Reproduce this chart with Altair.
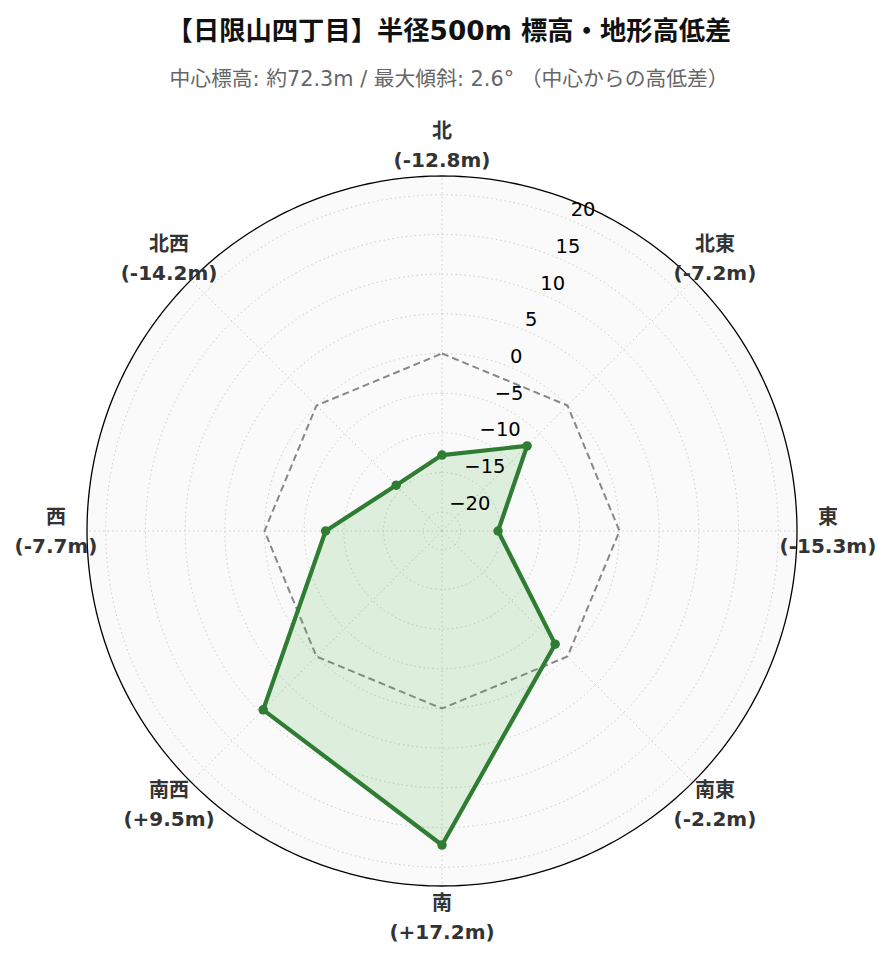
import altair as alt
import numpy as np
import pandas as pd

# ---- data ----
directions = ["北", "北東", "東", "南東", "南", "南西", "西", "北西"]
angles_deg = [0, 45, 90, 135, 180, 225, 270, 315]
diffs = [-12.8, -7.2, -15.3, -2.2, 17.2, 9.5, -7.7, -14.2]
ring_values = [-20, -15, -10, -5, 0, 5, 10, 15, 20]
ring_labels = ["−20", "−15", "−10", "−5", "0", "5", "10", "15", "20"]

title_text = "【日限山四丁目】半径500m 標高・地形高低差"
subtitle_text = "中心標高: 約72.3m / 最大傾斜: 2.6° （中心からの高低差）"

r_max = 1.3 * max(abs(v) for v in diffs)
r_min = -r_max
R = r_max - r_min            # radius in data units
label_r = R + 3.9            # direction labels sit just outside the circle
tick_angle = 22.5

FONT = "DejaVu Sans, Noto Sans CJK JP, sans-serif"
GREEN = "#2e7d32"
FILL_GREEN = "#4caf50"

# ---- tables ----
pts = pd.DataFrame({"dir": directions, "deg": angles_deg, "value": diffs, "idx": list(range(8))})
pts["label"] = [f"{d}\n({v:+.1f}m)" for d, v in zip(directions, diffs)]
closed = pd.concat([pts, pts.iloc[[0]].assign(idx=8, deg=360)], ignore_index=True)
zero_poly = closed.assign(value=0.0)

circle_deg = [int(d) for d in np.arange(0, 361, 1)]
rings = pd.DataFrame([(rv, d) for rv in ring_values for d in circle_deg], columns=["value", "deg"])
outer = pd.DataFrame({"value": [r_max] * len(circle_deg), "deg": circle_deg})
ticks = pd.DataFrame({"value": ring_values, "txt": ring_labels, "deg": [tick_angle] * len(ring_values)})
spokes = pd.DataFrame(
    [(d, v) for d in angles_deg for v in (r_min, r_max)], columns=["deg", "value"]
)
dir_labels = pts.assign(value=r_min + label_r)


def polar(ch):
    return ch.transform_calculate(
        r=f"datum.value - ({r_min})"
    ).transform_calculate(
        x="datum.r * sin(datum.deg * PI / 180)",
        y="datum.r * cos(datum.deg * PI / 180)",
    )


xs = alt.Scale(domain=[-R, R])
ys = alt.Scale(domain=[-R, R])
X = alt.X("x:Q", scale=xs, axis=None)
Y = alt.Y("y:Q", scale=ys, axis=None)

background = polar(alt.Chart(outer)).mark_line(
    fill="#fafafa", strokeOpacity=0
).encode(x=X, y=Y, order="deg:Q")

grid = polar(alt.Chart(rings)).mark_line(
    color="#cfcfcf", strokeWidth=1, strokeDash=[1.5, 3]
).encode(x=X, y=Y, detail="value:N", order="deg:Q")

spoke = polar(alt.Chart(spokes)).mark_line(
    color="#cfcfcf", strokeWidth=1, strokeDash=[1.5, 3]
).encode(x=X, y=Y, detail="deg:N", order="value:Q")

zero_line = polar(alt.Chart(zero_poly)).mark_line(
    color="#888888", strokeWidth=2, strokeDash=[7, 4]
).encode(x=X, y=Y, order="idx:Q")

poly_fill = polar(alt.Chart(closed)).mark_line(
    fill=FILL_GREEN, fillOpacity=0.17, strokeOpacity=0
).encode(x=X, y=Y, order="idx:Q")

poly_line = polar(alt.Chart(closed)).mark_line(
    color=GREEN, strokeWidth=4.2, strokeJoin="round"
).encode(x=X, y=Y, order="idx:Q")

points = polar(alt.Chart(pts)).mark_circle(
    color=GREEN, size=90, opacity=1
).encode(x=X, y=Y)

outer_line = polar(alt.Chart(outer)).mark_line(
    color="black", strokeWidth=1.3
).encode(x=X, y=Y, order="deg:Q")

tick_text = polar(alt.Chart(ticks)).mark_text(
    align="left", baseline="bottom", font=FONT, fontSize=19.5, color="black"
).encode(x=X, y=Y, text="txt:N")

dir_text = polar(alt.Chart(dir_labels)).mark_text(
    align="center", baseline="middle", font=FONT, fontSize=20, fontWeight="bold",
    color="#333333", lineBreak="\n", lineHeight=29, dy=-13
).encode(x=X, y=Y, text="label:N")

chart = alt.layer(
    background, grid, spoke, zero_line, poly_fill, poly_line, points,
    outer_line, tick_text, dir_text
).properties(
    width=710,
    height=710,
    autosize=alt.AutoSizeParams(type="none"),
    padding={"left": 79, "top": 168, "right": 80, "bottom": 60},
    title=alt.TitleParams(
        text=title_text,
        subtitle=subtitle_text,
        font=FONT,
        fontSize=26.3,
        fontWeight="bold",
        color="#111111",
        subtitleFont=FONT,
        subtitleFontSize=20.8,
        subtitleColor="#666666",
        subtitlePadding=25,
        anchor="middle",
        offset=32,
        dx=7,
    ),
).configure_view(strokeOpacity=0)

chart.save("out.html", embed_options={"renderer": "svg", "actions": False})
